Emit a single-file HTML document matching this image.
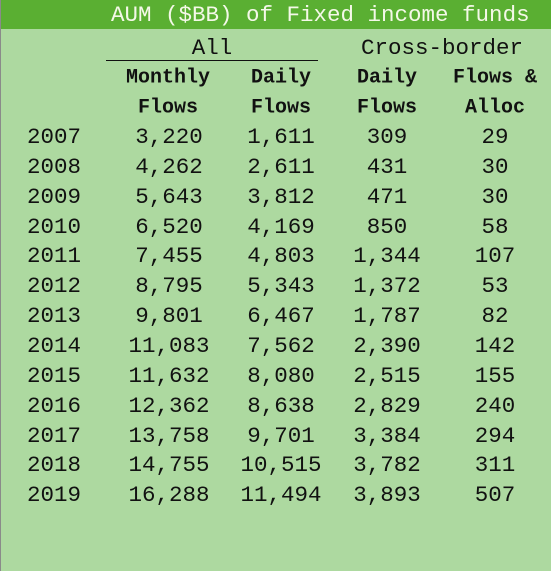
<!DOCTYPE html>
<html><head><meta charset="utf-8"><style>
body{margin:0;width:551px;height:571px;overflow:hidden;background:#fff}
#wrap{position:relative;width:550px;height:571px;background:#add9a0;border-left:1px solid #8a8a8a;font-family:"Courier New","Nimbus Mono PS","FreeMono","Courier","Liberation Mono",monospace;color:#111}
#title{position:absolute;left:0;top:0;width:550px;height:29px;background:#5aaf32;color:#f4f8e8;font-size:22.5px;line-height:31px}
#title span{position:absolute;left:110px}
.c{position:absolute;transform:translate(-50%,-50%);white-space:nowrap;font-size:22.5px}
.h{font-weight:bold;font-size:20px}
#rule{position:absolute;left:105px;top:60px;width:212px;height:1px;background:#111}
</style></head><body>
<div id="wrap">
<div id="title"><span>AUM ($BB) of Fixed income funds</span></div>
<div class="c" style="left:211px;top:48px">All</div>
<div class="c" style="left:441px;top:48px">Cross-border</div>
<div id="rule"></div>
<div class="c h" style="left:167px;top:78px">Monthly</div>
<div class="c h" style="left:167px;top:108px">Flows</div>
<div class="c h" style="left:280px;top:78px">Daily</div>
<div class="c h" style="left:280px;top:108px">Flows</div>
<div class="c h" style="left:386px;top:78px">Daily</div>
<div class="c h" style="left:386px;top:108px">Flows</div>
<div class="c h" style="left:494px;top:78px">Flows &amp;</div>
<div class="c h" style="left:494px;top:108px">Alloc</div>
</div>
<script>
const years=["2007","2008","2009","2010","2011","2012","2013","2014","2015","2016","2017","2018","2019"];
const monthly=["3,220","4,262","5,643","6,520","7,455","8,795","9,801","11,083","11,632","12,362","13,758","14,755","16,288"];
const daily=["1,611","2,611","3,812","4,169","4,803","5,343","6,467","7,562","8,080","8,638","9,701","10,515","11,494"];
const cbDaily=["309","431","471","850","1,344","1,372","1,787","2,390","2,515","2,829","3,384","3,782","3,893"];
const cbAlloc=["29","30","30","58","107","53","82","142","155","240","294","311","507"];
const wrap=document.getElementById('wrap');
const cols=[[years,53],[monthly,168],[daily,280],[cbDaily,386],[cbAlloc,494]];
years.forEach((y,i)=>{
  cols.forEach(([arr,x],j)=>{
    const d=document.createElement('div');
    d.className='c';
    d.style.left=x+'px';
    d.style.top=(137+i*29.85)+'px';
    d.textContent=arr[i];
    
    
    wrap.appendChild(d);
  });
});
</script>
</body></html>
